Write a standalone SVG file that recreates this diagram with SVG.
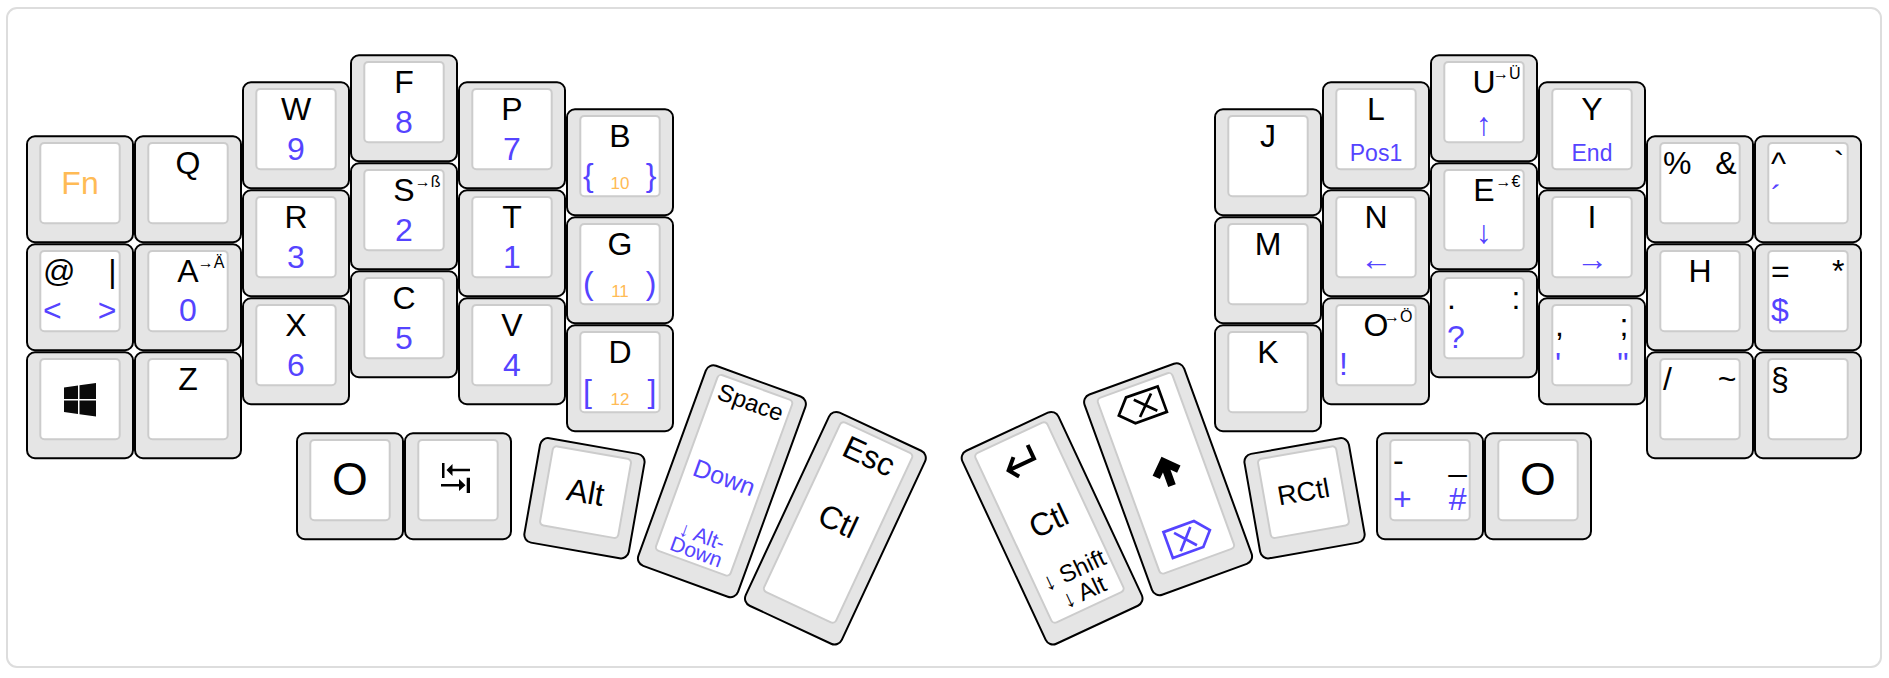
<svg xmlns="http://www.w3.org/2000/svg" width="1889" height="678" viewBox="0 0 1889 678">
<style>
text{font-family:"Liberation Sans",Arial,sans-serif;font-size:32px;fill:#000}
.b{fill:#5544ff}.y{fill:#ffbb55}
.m{text-anchor:middle}.e{text-anchor:end}
.s{font-size:16px;text-anchor:end}
.n{font-size:17px;text-anchor:middle;fill:#ffbb55}
.a{text-anchor:middle;fill:#5544ff}
.w{font-size:23px;text-anchor:middle;fill:#5544ff}
.c{fill:#e5e5e5;stroke:#000;stroke-width:2}
.i{fill:#fff;stroke:#ccc;stroke-width:2}
.frame{fill:#fff;stroke:#ddd;stroke-width:2}
.ic{fill:none;stroke:#000;stroke-width:2.5}
.ib{fill:none;stroke:#5544ff;stroke-width:2.5}
</style>
<defs>
<g id="cap"><rect class="c" x="0" y="0.25" width="106" height="106" rx="8"/><rect class="i" x="13.3" y="6.9" width="79.4" height="80.3" rx="4"/></g>
<g id="tall"><rect class="c" x="0" y="0.25" width="106" height="213" rx="8"/><rect class="i" x="13.3" y="6.9" width="79.4" height="187" rx="4"/></g>
</defs>
<rect class="frame" x="7" y="8" width="1874" height="659" rx="10"/>
<g id="key-fn" transform="translate(27,136)"><use href="#cap"/><text class="m y" x="53" y="58">Fn</text></g>
<g id="key-at" transform="translate(27,244)"><use href="#cap"/><text x="16" y="38">@</text><text class="e" x="89.5" y="38">|</text><text class="b" x="16" y="77">&lt;</text><text class="b e" x="89.5" y="77">&gt;</text></g>
<g id="key-win" transform="translate(27,352)"><use href="#cap"/><path fill="#0a0a0a" d="M37 35.5 L51 33.5 V47 H37Z M52.5 33.3 L69 31 V47 H52.5Z M37 48.5 H51 V62 L37 60Z M52.5 48.5 H69 V64.5 L52.5 62.2Z"/></g>
<g id="key-q" transform="translate(135,136)"><use href="#cap"/><text class="m" x="53" y="38">Q</text></g>
<g id="key-a" transform="translate(135,244)"><use href="#cap"/><text class="m" x="53" y="38">A</text><text class="s" x="89.5" y="24">→Ä</text><text class="m b" x="53" y="77">0</text></g>
<g id="key-z" transform="translate(135,352)"><use href="#cap"/><text class="m" x="53" y="38">Z</text></g>
<g id="key-w" transform="translate(243,82)"><use href="#cap"/><text class="m" x="53" y="38">W</text><text class="m b" x="53" y="77.5">9</text></g>
<g id="key-r" transform="translate(243,190)"><use href="#cap"/><text class="m" x="53" y="38">R</text><text class="m b" x="53" y="77.5">3</text></g>
<g id="key-x" transform="translate(243,298)"><use href="#cap"/><text class="m" x="53" y="38">X</text><text class="m b" x="53" y="77.5">6</text></g>
<g id="key-f" transform="translate(351,55)"><use href="#cap"/><text class="m" x="53" y="38">F</text><text class="m b" x="53" y="77.5">8</text></g>
<g id="key-s" transform="translate(351,163)"><use href="#cap"/><text class="m" x="53" y="38">S</text><text class="s" x="89.5" y="24">→ß</text><text class="m b" x="53" y="77.5">2</text></g>
<g id="key-c" transform="translate(351,271)"><use href="#cap"/><text class="m" x="53" y="38">C</text><text class="m b" x="53" y="77.5">5</text></g>
<g id="key-p" transform="translate(459,82)"><use href="#cap"/><text class="m" x="53" y="38">P</text><text class="m b" x="53" y="77.5">7</text></g>
<g id="key-t" transform="translate(459,190)"><use href="#cap"/><text class="m" x="53" y="38">T</text><text class="m b" x="53" y="77.5">1</text></g>
<g id="key-v" transform="translate(459,298)"><use href="#cap"/><text class="m" x="53" y="38">V</text><text class="m b" x="53" y="77.5">4</text></g>
<g id="key-b" transform="translate(567,109)"><use href="#cap"/><text class="m" x="53" y="38">B</text><text class="b" x="16" y="77">{</text><text class="n" x="53" y="80">10</text><text class="b e" x="89.5" y="77">}</text></g>
<g id="key-g" transform="translate(567,217)"><use href="#cap"/><text class="m" x="53" y="38">G</text><text class="b" x="16" y="77">(</text><text class="n" x="53" y="80">11</text><text class="b e" x="89.5" y="77">)</text></g>
<g id="key-d" transform="translate(567,325)"><use href="#cap"/><text class="m" x="53" y="38">D</text><text class="b" x="16" y="77">[</text><text class="n" x="53" y="80">12</text><text class="b e" x="89.5" y="77">]</text></g>
<g id="key-o-left" transform="translate(297,433)"><use href="#cap"/><text class="m" style="font-size:46px" x="53" y="62">O</text></g>
<g id="key-tab" transform="translate(405,433)"><use href="#cap"/><path fill="#000" d="M37 30H39.5V45H37Z M41.5 37 L47.5 31 V35.8 H65 V38.2 H47.5 V43Z M36 51.1 H54 V46 L60.5 52.3 L54 58 V53.5 H36Z M61.7 44.7 H65 V60 H61.7Z"/></g>
<g id="key-alt" transform="translate(584.5,498) rotate(10) translate(-53,-53)"><use href="#cap"/><text class="m" x="53" y="58">Alt</text></g>
<g id="key-space" transform="translate(722,481) rotate(20) translate(-53,-106.5)"><use href="#tall"/><text class="m" style="font-size:24px" x="53" y="31">Space</text><text class="m b" style="font-size:25px" x="54" y="111">Down</text><text class="m b" style="font-size:21px" x="53" y="172">↓ Alt-</text><text class="m b" style="font-size:21px" x="53" y="189">Down</text></g>
<g id="key-esc" transform="translate(835.5,528) rotate(25) translate(-53,-106.5)"><use href="#tall"/><text class="m" x="53" y="38">Esc</text><text class="m" x="52.5" y="110">Ctl</text></g>
<g id="key-enter" transform="translate(1052,528) rotate(-25) translate(-53,-106.5)"><use href="#tall"/><path class="ic" style="stroke-width:4" transform="translate(51,32)" d="M15 -11 V4 H-13 M-3 -6 L-13 4 L-6 14"/><text class="m" x="53" y="109.5">Ctl</text><text class="m" style="font-size:24px" x="55" y="162">↓ Shift</text><text class="m" style="font-size:24px" x="55" y="186">↓ Alt</text></g>
<g id="key-bksp" transform="translate(1168,479) rotate(-20) translate(-53,-106.5)"><use href="#tall"/><g transform="translate(55.5,29) scale(1.08)"><path class="ic" d="M18 -12 V13 H-13 L-25 1 L-13 -12.5Z M-7 -8 L10 9 M10 -8 L-7 9"/></g><path transform="translate(54.5,100)" fill="none" stroke="#000" stroke-width="8" d="M-12 1 L0 -11 L12 1 M0 -8 V14"/><g transform="translate(50,170) scale(1.08)"><path class="ib" d="M-18 -14 H12 L23 -1 L12 11.5 H-18Z M-9 -10 L7 8 M7 -10 L-9 8"/></g></g>
<g id="key-rctl" transform="translate(1304.5,498) rotate(-10) translate(-53,-53)"><use href="#cap"/><text class="m" style="font-size:27px" x="53" y="56">RCtl</text></g>
<g id="key-minus" transform="translate(1377,433)"><use href="#cap"/><text x="16" y="38">-</text><text class="e" x="89.5" y="38">_</text><text class="b" x="16" y="77">+</text><text class="b e" x="89.5" y="77">#</text></g>
<g id="key-o-right" transform="translate(1485,433)"><use href="#cap"/><text class="m" style="font-size:46px" x="53" y="62">O</text></g>
<g id="key-j" transform="translate(1215,109)"><use href="#cap"/><text class="m" x="53" y="38">J</text></g>
<g id="key-m" transform="translate(1215,217)"><use href="#cap"/><text class="m" x="53" y="38">M</text></g>
<g id="key-k" transform="translate(1215,325)"><use href="#cap"/><text class="m" x="53" y="38">K</text></g>
<g id="key-l" transform="translate(1323,82)"><use href="#cap"/><text class="m" x="53" y="38">L</text><text class="w" x="53" y="79">Pos1</text></g>
<g id="key-n" transform="translate(1323,190)"><use href="#cap"/><text class="m" x="53" y="38">N</text><text class="a" x="53" y="80">←</text></g>
<g id="key-o" transform="translate(1323,298)"><use href="#cap"/><text class="m" x="53" y="38">O</text><text class="s" x="89.5" y="24">→Ö</text><text class="b" x="16" y="77">!</text></g>
<g id="key-u" transform="translate(1431,55)"><use href="#cap"/><text class="m" x="53" y="38">U</text><text class="s" x="89.5" y="24">→Ü</text><text class="a" x="53" y="80">↑</text></g>
<g id="key-e" transform="translate(1431,163)"><use href="#cap"/><text class="m" x="53" y="38">E</text><text class="s" x="89.5" y="24">→€</text><text class="a" x="53" y="80">↓</text></g>
<g id="key-period" transform="translate(1431,271)"><use href="#cap"/><text x="16" y="38">.</text><text class="e" x="89.5" y="38">:</text><text class="b" x="16" y="77">?</text></g>
<g id="key-y" transform="translate(1539,82)"><use href="#cap"/><text class="m" x="53" y="38">Y</text><text class="w" x="53" y="79">End</text></g>
<g id="key-i" transform="translate(1539,190)"><use href="#cap"/><text class="m" x="53" y="38">I</text><text class="a" x="53" y="80">→</text></g>
<g id="key-comma" transform="translate(1539,298)"><use href="#cap"/><text x="16" y="38">,</text><text class="e" x="89.5" y="38">;</text><text class="b" x="16" y="77">'</text><text class="b e" x="89.5" y="77">"</text></g>
<g id="key-percent" transform="translate(1647,136)"><use href="#cap"/><text x="16" y="38">%</text><text class="e" x="89.5" y="38">&amp;</text></g>
<g id="key-h" transform="translate(1647,244)"><use href="#cap"/><text class="m" x="53" y="38">H</text></g>
<g id="key-slash" transform="translate(1647,352)"><use href="#cap"/><text x="16" y="38">/</text><text class="e" x="89.5" y="38">~</text></g>
<g id="key-caret" transform="translate(1755,136)"><use href="#cap"/><text x="16" y="38">^</text><text class="e" x="89.5" y="38">`</text><text class="b" x="16" y="72">´</text></g>
<g id="key-equal" transform="translate(1755,244)"><use href="#cap"/><text x="16" y="38">=</text><text class="e" x="89.5" y="38">*</text><text class="b" x="16" y="77">$</text></g>
<g id="key-section" transform="translate(1755,352)"><use href="#cap"/><text x="16" y="38">§</text></g>
</svg>
